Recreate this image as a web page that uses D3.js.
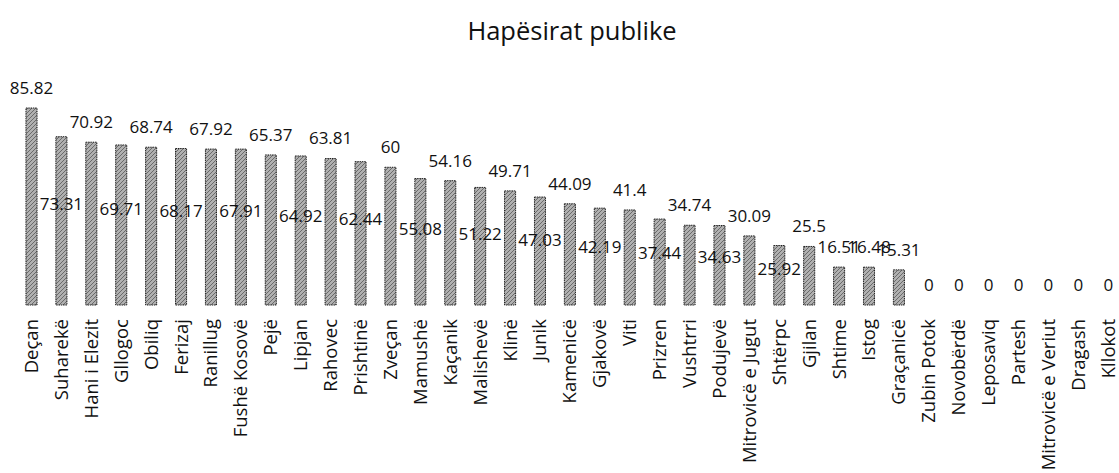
<!DOCTYPE html>
<html>
<head>
<meta charset="utf-8">
<script src="https://cdn.jsdelivr.net/npm/d3@7"></script>
<style>
  html, body { margin: 0; padding: 0; background: #fff; }
  svg { display: block; }
  text { font-family: "Open Sans", "Noto Sans", sans-serif; fill: #111; }
</style>
</head>
<body>
<svg id="chart" width="1119" height="473"></svg>
<script>
const title = "Hapësirat publike";
const categories = ["Deçan","Suharekë","Hani i Elezit","Gllogoc","Obiliq","Ferizaj","Ranillug","Fushë Kosovë","Pejë","Lipjan","Rahovec","Prishtinë","Zveçan","Mamushë","Kaçanik","Malishevë","Klinë","Junik","Kamenicë","Gjakovë","Viti","Prizren","Vushtrri","Podujevë","Mitrovicë e Jugut","Shtërpc","Gjilan","Shtime","Istog","Graçanicë","Zubin Potok","Novobërdë","Leposaviq","Partesh","Mitrovicë e Veriut","Dragash","Kllokot"];
const values = [85.82,73.31,70.92,69.71,68.74,68.17,67.92,67.91,65.37,64.92,63.81,62.44,60,55.08,54.16,51.22,49.71,47.03,44.09,42.19,41.4,37.44,34.74,34.63,30.09,25.92,25.5,16.51,16.48,15.31,0,0,0,0,0,0,0];

const svg = d3.select("#chart");
const baseY = 305;

const x = d3.scalePoint().domain(categories).range([31.5, 1108.3]);
const y = d3.scaleLinear().domain([0, 85.82]).range([baseY, 108]);
const bw = x.step() * 0.37;

// dithered / hatched texture
const defs = svg.append("defs");
const pat = defs.append("pattern").attr("id", "hatch")
  .attr("patternUnits", "userSpaceOnUse").attr("width", 4).attr("height", 4);
pat.append("rect").attr("width", 4).attr("height", 4).attr("fill", "#b0b0b0");
pat.append("path").attr("d", "M-1,1 l2,-2 M0,4 l4,-4 M3,5 l2,-2")
  .attr("stroke", "#6a6a6a").attr("stroke-width", 1);

svg.append("text")
  .attr("x", 572).attr("y", 40)
  .attr("text-anchor", "middle")
  .style("font-size", "25.5px")
  .text(title);

const data = categories.map((c, i) => ({c, v: values[i], i}));

svg.append("g").selectAll("rect").data(data.filter(d => d.v > 0)).join("rect")
  .attr("x", d => x(d.c) - bw / 2)
  .attr("y", d => y(d.v))
  .attr("width", bw)
  .attr("height", d => baseY - y(d.v))
  .attr("fill", "url(#hatch)")
  .attr("stroke", "#222")
  .attr("stroke-width", 1)
  .attr("stroke-dasharray", "1.5,0.8");

// value labels: alternate bars (odd index, up to Shtërpc) carry the label lower down
svg.append("g").selectAll("text").data(data).join("text")
  .attr("x", d => x(d.c))
  .attr("y", d => (d.i % 2 === 1 && d.i <= 25) ? y(d.v * 0.6) : y(d.v) - 20)
  .attr("dy", "0.35em")
  .attr("text-anchor", "middle")
  .style("font-size", "17px")
  .text(d => d.v);

// category labels
svg.append("g").selectAll("text").data(categories).join("text")
  .attr("transform", d => `translate(${x(d)},319) rotate(-90)`)
  .attr("dy", "0.35em")
  .attr("text-anchor", "end")
  .style("font-size", "18.5px")
  .text(d => d);
</script>
</body>
</html>
